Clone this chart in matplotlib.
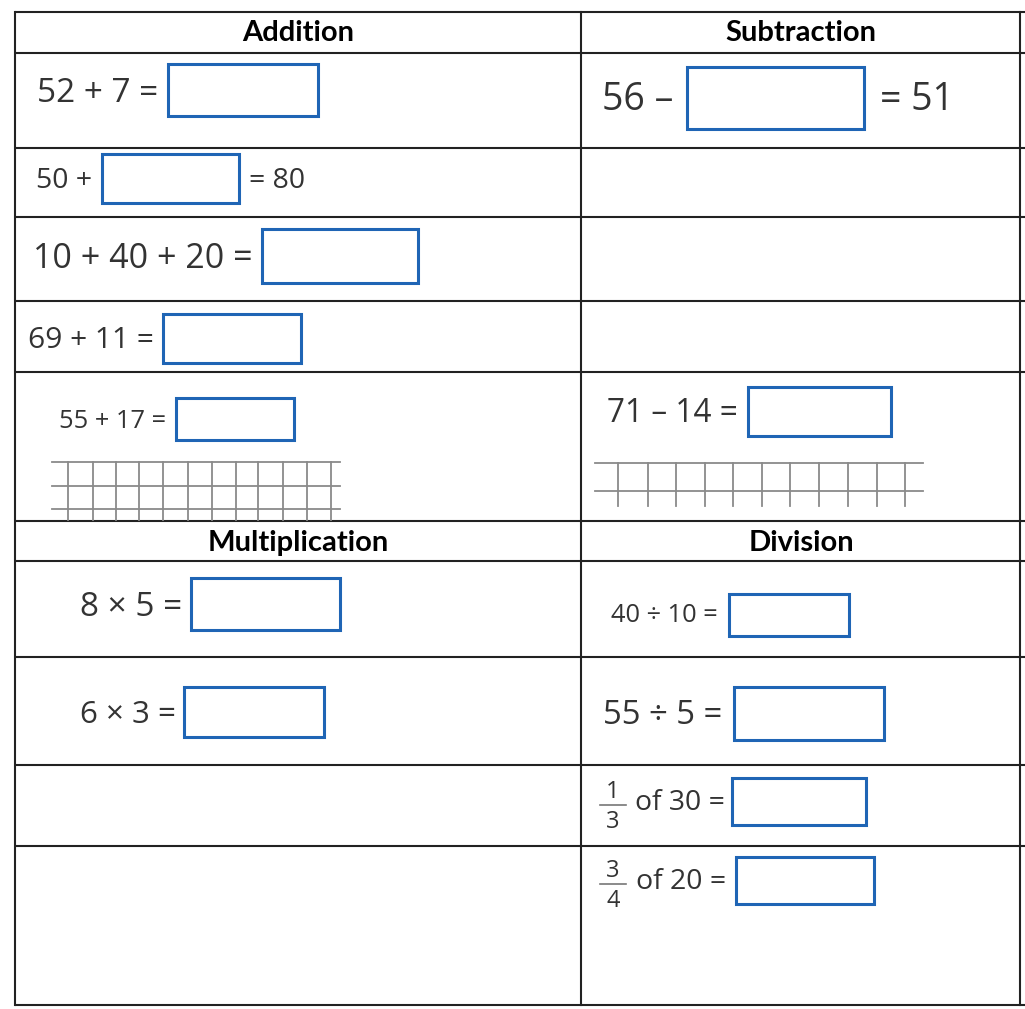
import matplotlib.pyplot as plt
from matplotlib.patches import Rectangle

# worksheet content
headers = ["Addition", "Subtraction", "Multiplication", "Division"]
left_parts = ["52 + 7 =", "50 +", "10 + 40 + 20 =", "69 + 11 =", "55 + 17 =",
              "56 –", "71 – 14 =",
              "8 × 5 =", "6 × 3 =",
              "40 ÷ 10 =", "55 ÷ 5 =", "of 30 =", "of 20 ="]
right_parts = ["", "= 80", "", "", "", "= 51", "", "", "", "", "", "", ""]
frac_num = ["1", "3"]
frac_den = ["3", "4"]

# layout (pixel coordinates, y downwards)
col_x = [15, 581, 1020]
row_y = [12, 53, 148, 217, 301, 372, 521, 561, 657, 765, 846, 1005]
header_y = [33, 33, 543, 543]
header_x = [298, 801, 298, 801]

text_x = [37, 36, 33, 28, 59, 602, 607, 80, 80, 611, 603, 635, 636]
text_y = [93, 181, 259, 341, 421, 100, 414, 607, 715, 616, 716, 803, 882]
text_size = [24, 20.5, 24.5, 21.5, 18.3, 27, 22.8, 24, 22.5, 18.3, 23.7, 20.4, 20.5]
right_x = [0, 249, 0, 0, 0, 880, 0, 0, 0, 0, 0, 0, 0]
# boxes: x0, x1, y0, y1
box_x0 = [168, 102, 262, 163, 176, 687, 748, 191, 184, 729, 734, 732, 736]
box_x1 = [318, 239, 418, 301, 294, 864, 891, 340, 324, 849, 884, 866, 874]
box_y0 = [64, 154, 229, 314, 398, 67, 387, 578, 687, 594, 687, 778, 857]
box_y1 = [116, 203, 283, 363, 440, 129, 436, 630, 737, 636, 740, 825, 904]

frac_x = [613, 613]
frac_y = [801, 880]

# squared paper strips
grid_left_h = [462, 486, 509]
grid_left_v = [68, 93, 116, 139, 163, 188, 212, 236, 258, 283, 307, 331]
grid_right_h = [463, 491]
grid_right_v = [618, 648, 676, 705, 733, 762, 790, 819, 848, 877, 905]

line_col = "#222222"
blue = "#1f65b5"
txt_col = "#333333"
font = "Open Sans"

fig = plt.figure(figsize=(10.25, 10.09), dpi=100)
ax = fig.add_axes([0, 0, 1, 1])
ax.set_xlim(0, 1025)
ax.set_ylim(1009, 0)
ax.axis("off")

# table lines
for y in row_y:
    ax.plot([col_x[0], 1025], [y, y], color=line_col, lw=1.5, solid_capstyle="butt")
for x in col_x:
    ax.plot([x, x], [row_y[0], row_y[-1]], color=line_col, lw=1.5)

for i, h in enumerate(headers):
    ax.text(header_x[i], header_y[i], h, ha="center", va="center",
            fontsize=21, fontweight="bold", family="Lato", color="black")

# grids
for y in grid_left_h:
    ax.plot([52, 340], [y, y], color="#8a8a8a", lw=1.3)
for x in grid_left_v:
    ax.plot([x, x], [462, 520], color="#8a8a8a", lw=1.3)
for y in grid_right_h:
    ax.plot([595, 923], [y, y], color="#8a8a8a", lw=1.3)
for x in grid_right_v:
    ax.plot([x, x], [463, 506], color="#8a8a8a", lw=1.3)

# equations and answer boxes
for i in range(len(left_parts)):
    ax.text(text_x[i], text_y[i], left_parts[i], ha="left", va="center",
            fontsize=text_size[i], family=font, color=txt_col)
    if right_parts[i]:
        ax.text(right_x[i], text_y[i], right_parts[i], ha="left", va="center",
                fontsize=text_size[i], family=font, color=txt_col)
    ax.add_patch(Rectangle((box_x0[i], box_y0[i]), box_x1[i] - box_x0[i],
                           box_y1[i] - box_y0[i], fill=False, ec=blue, lw=2.2))

# fractions
for i in range(len(frac_num)):
    ax.text(frac_x[i], frac_y[i] - 9, frac_num[i], ha="center", va="center",
            fontsize=17, family=font, color=txt_col)
    ax.text(frac_x[i], frac_y[i] + 21, frac_den[i], ha="center", va="center",
            fontsize=17, family=font, color=txt_col)
    ax.plot([frac_x[i] - 13, frac_x[i] + 13], [frac_y[i] + 4, frac_y[i] + 4],
            color="#777777", lw=1.2)

fig.savefig("out.png", dpi=100)
